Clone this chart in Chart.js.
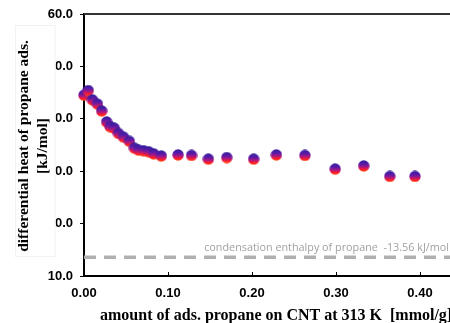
<!DOCTYPE html>
<html>
<head>
<meta charset="utf-8">
<script src="https://cdn.jsdelivr.net/npm/chart.js@4.4.1/dist/chart.umd.min.js"></script>
<style>
  html, body { margin: 0; padding: 0; background: #fff; }
  #wrap { width: 450px; height: 323px; }
</style>
</head>
<body>
<div id="wrap"><canvas id="heatChart" width="450" height="323"></canvas></div>
<script>
// ========== DATA ==========
const amountAds = [0.000, 0.005, 0.010, 0.016, 0.021, 0.027, 0.031, 0.036, 0.041, 0.047,
                   0.054, 0.060, 0.065, 0.071, 0.077, 0.083, 0.092, 0.112, 0.128, 0.148,
                   0.170, 0.202, 0.229, 0.263, 0.299, 0.333, 0.364, 0.394];
const diffHeat  = [44.5, 45.4, 43.6, 42.8, 41.5, 39.4, 38.5, 38.2, 37.2, 36.5,
                   35.7, 34.4, 34.0, 33.9, 33.7, 33.3, 32.9, 33.1, 33.0, 32.3,
                   32.6, 32.3, 33.1, 33.0, 30.4, 31.0, 29.0, 29.0];
const condX = [0, 0.5];
const condY = [13.56, 13.56];
const xTicks = [0.0, 0.1, 0.2, 0.3, 0.4];
const yTicks = [10, 20, 30, 40, 50, 60];

// ========== POINT STYLE (blue -> red gradient dot) ==========
function makeDot(size) {
    const c = document.createElement('canvas');
    c.width = size; c.height = size;
    const g = c.getContext('2d');
    const grad = g.createLinearGradient(0, 0, 0, size);
    grad.addColorStop(0, '#2c1e98');
    grad.addColorStop(0.35, '#5a1aaa');
    grad.addColorStop(0.6, '#b0187c');
    grad.addColorStop(0.8, '#ff1e2a');
    grad.addColorStop(1, '#ff5a10');
    g.fillStyle = grad;
    g.beginPath();
    g.arc(size / 2, size / 2, size / 2 - 0.3, 0, Math.PI * 2);
    g.fill();
    return c;
}
const dot = makeDot(12);

// ========== EXTRA DRAWING ==========
const decorations = {
    id: 'decorations',
    afterDraw(chart) {
        const { ctx, chartArea: area, scales: { x, y } } = chart;
        ctx.save();
        // top frame
        ctx.strokeStyle = '#333';
        ctx.lineWidth = 2;
        ctx.beginPath();
        ctx.moveTo(area.left, area.top);
        ctx.lineTo(area.right, area.top);
        ctx.stroke();
        // x ticks pointing inward
        ctx.strokeStyle = '#000';
        ctx.lineWidth = 1;
        x.ticks.forEach(t => {
            const px = Math.round(x.getPixelForValue(t.value)) + 0.5;
            ctx.beginPath();
            ctx.moveTo(px, area.bottom);
            ctx.lineTo(px, area.bottom - 4);
            ctx.stroke();
        });
        // condensation label
        ctx.fillStyle = '#a0a0a0';
        ctx.font = '10.8px "Open Sans"';
        ctx.textAlign = 'right';
        ctx.textBaseline = 'alphabetic';
        ctx.fillText('condensation enthalpy of propane  -13.56 kJ/mol', area.right - 1, y.getPixelForValue(13.56) - 6);
        // y title on white box (hides first digits of ticks, as in source)
        ctx.fillStyle = '#fff';
        ctx.fillRect(15, 25, 40.5, 232);
        ctx.strokeStyle = '#f2f2f2';
        ctx.strokeRect(15.5, 25.5, 39.5, 231);
        ctx.fillStyle = '#000';
        ctx.font = 'bold 15.5px "Liberation Serif"';
        ctx.textAlign = 'center';
        ctx.textBaseline = 'middle';
        ctx.save();
        ctx.translate(24, 146);
        ctx.rotate(-Math.PI / 2);
        ctx.fillText('differential heat of propane ads.', 0, 0);
        ctx.restore();
        ctx.save();
        ctx.translate(43, 146);
        ctx.rotate(-Math.PI / 2);
        ctx.fillText('[kJ/mol]', 0, 0);
        ctx.restore();
        // x title
        ctx.font = 'bold 16px "Liberation Serif"';
        ctx.textAlign = 'left';
        ctx.fillText('amount of ads. propane on CNT at 313 K  [mmol/g]', 100, 316);
        ctx.restore();
    }
};

// ========== CHART ==========
const ctx = document.getElementById('heatChart').getContext('2d');
const heatChart = new Chart(ctx, {
    type: 'scatter',
    data: {
        datasets: [{
            label: 'condensation',
            type: 'line',
            data: condX.map((v, i) => ({ x: v, y: condY[i] })),
            borderColor: '#b0b0b0',
            borderWidth: 3.5,
            borderDash: [12, 8],
            pointRadius: 0,
            fill: false
        }, {
            label: 'differential heat',
            data: amountAds.map((v, i) => ({ x: v, y: diffHeat[i] })),
            pointStyle: dot,
            pointRadius: 6,
            clip: false
        }]
    },
    options: {
        responsive: false,
        animation: false,
        events: [],
        devicePixelRatio: 1,
        layout: { autoPadding: false, padding: { top: 14, right: 0, left: 0, bottom: 0 } },
        plugins: { legend: { display: false }, tooltip: { enabled: false } },
        scales: {
            x: {
                type: 'linear',
                min: 0,
                max: 0.4357,
                afterBuildTicks: s => { s.ticks = xTicks.map(v => ({ value: v })); },
                afterFit: s => { s.height = 47; s.paddingLeft = 0; s.paddingRight = 0; },
                ticks: {
                    padding: 10,
                    color: '#000',
                    font: { family: '"Liberation Sans"', size: 13, weight: 'bold' },
                    callback: v => Number(v).toFixed(2),
                    maxRotation: 0
                },
                grid: { display: false, drawTicks: false },
                border: { display: true, color: '#000', width: 2 }
            },
            y: {
                min: 10,
                max: 60,
                afterBuildTicks: s => { s.ticks = yTicks.map(v => ({ value: v })); },
                afterFit: s => { s.width = 84; s.paddingTop = 0; s.paddingBottom = 0; },
                ticks: {
                    padding: 7,
                    color: '#000',
                    font: { family: '"Liberation Sans"', size: 13, weight: 'bold' },
                    callback: v => Number(v).toFixed(1)
                },
                grid: { display: true, drawOnChartArea: false, drawTicks: true, tickLength: 4, color: '#000' },
                border: { display: true, color: '#000', width: 2 }
            }
        }
    },
    plugins: [decorations]
});
</script>
</body>
</html>
